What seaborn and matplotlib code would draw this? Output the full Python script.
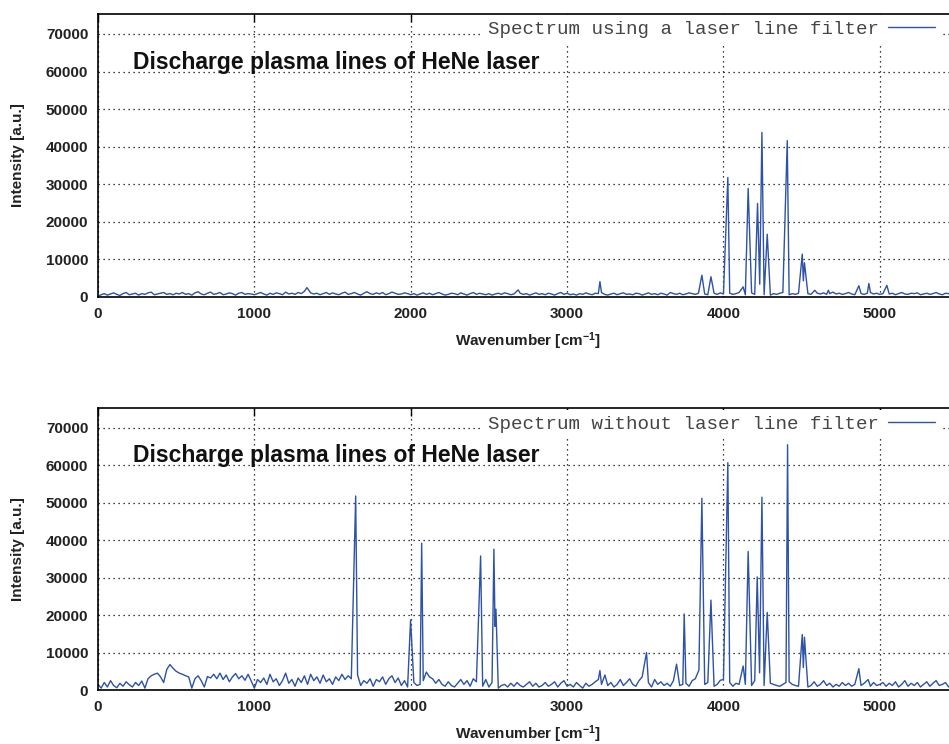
import numpy as np
import pandas as pd
import matplotlib
matplotlib.use("Agg")
import matplotlib.pyplot as plt
import seaborn as sns

# sampling grid of the baseline (cm^-1)
wavenumber_grid = np.arange(0, 5501, 20)

# baseline intensities, in units of 100 a.u.
filter_baseline = [
    2, 6, 9, 5, 8, 11, 7, 4, 9, 12, 6, 8, 10, 5, 9, 7, 11, 13, 6, 8, 10, 12, 7, 9, 6,
    10, 8, 12, 7, 9, 5, 11, 14, 8, 6, 10, 13, 7, 9, 12, 6, 8, 11, 9, 5, 10, 12, 7, 9, 8,
    6, 9, 12, 8, 5, 10, 7, 11, 9, 6, 13, 8, 10, 7, 12, 9, 15, 20, 11, 8, 10, 6, 9, 12, 7,
    11, 8, 6, 10, 13, 7, 9, 12, 8, 5, 10, 14, 9, 7, 11, 8, 12, 6, 9, 13, 10, 7, 8, 11, 9,
    6, 9, 5, 8, 11, 7, 10, 6, 9, 12, 8, 5, 7, 10, 9, 6, 11, 8, 5, 9, 12, 7, 10, 8, 6,
    9, 5, 8, 10, 7, 11, 9, 6, 8, 14, 10, 7, 9, 5, 8, 11, 7, 9, 6, 10, 8, 5, 9, 12, 7,
    10, 6, 8, 5, 9, 7, 11, 8, 6, 10, 9, 12, 7, 5, 8, 10, 6, 9, 11, 7, 8, 6, 10, 9, 5,
    8, 11, 7, 9, 6, 10, 8, 5, 12, 9, 7, 10, 6, 8, 11, 9, 7, 10, 12, 8, 6, 9, 10, 7, 11,
    8, 6, 10, 7, 9, 12, 8, 6, 9, 11, 7, 8, 10, 6, 8, 5, 9, 7, 10, 12, 8, 6, 9, 7, 10,
    8, 12, 9, 7, 14, 10, 8, 11, 7, 9, 13, 8, 10, 7, 9, 12, 8, 6, 11, 9, 7, 10, 12, 8, 10,
    7, 9, 11, 8, 10, 6, 9, 12, 8, 7, 10, 9, 11, 6, 8, 10, 7, 9, 12, 8, 6, 10, 9, 7, 8,
    9,
]
nofilter_baseline = [
    15, 5, 20, 8, 25, 12, 6, 18, 10, 22, 14, 8, 20, 12, 24, 5, 30, 38, 42, 45, 35, 20, 55, 68, 58,
    50, 45, 42, 38, 35, 5, 30, 38, 25, 8, 36, 32, 42, 30, 45, 28, 40, 22, 35, 44, 30, 38, 26, 42, 24,
    5, 28, 20, 32, 15, 42, 22, 30, 12, 25, 45, 18, 28, 10, 32, 20, 38, 15, 42, 25, 35, 18, 40, 22, 30,
    15, 35, 25, 42, 28, 38, 30, 45, 40, 12, 25, 18, 30, 10, 28, 22, 35, 15, 30, 38, 20, 32, 12, 25, 8,
    10, 20, 12, 15, 25, 48, 35, 30, 18, 28, 15, 10, 22, 12, 8, 18, 28, 15, 25, 10, 30, 22, 15, 10, 28,
    8, 20, 25, 5, 12, 15, 8, 18, 10, 20, 12, 8, 15, 22, 10, 18, 8, 12, 20, 10, 15, 22, 8, 18, 25,
    10, 15, 8, 20, 12, 5, 18, 10, 15, 22, 28, 15, 35, 12, 20, 8, 15, 28, 12, 20, 30, 15, 10, 25, 35,
    15, 20, 8, 28, 15, 22, 12, 18, 10, 25, 20, 12, 15, 18, 10, 25, 30, 20, 25, 15, 20, 18, 10, 15, 25,
    28, 15, 20, 10, 18, 15, 20, 15, 20, 12, 25, 15, 20, 12, 25, 18, 15, 12, 10, 15, 20, 22, 15, 12, 10,
    25, 20, 8, 12, 22, 10, 15, 25, 12, 18, 8, 15, 10, 20, 12, 18, 10, 15, 25, 12, 18, 22, 10, 20, 12,
    15, 20, 10, 18, 12, 22, 8, 15, 25, 10, 18, 12, 20, 8, 15, 22, 10, 18, 25, 12, 15, 20, 8, 18, 12,
    15,
]

# emission lines (position in cm^-1, height in units of 100 a.u.)
filter_peak_x = [1336, 2687, 3210, 3862, 3920, 4028, 4126, 4158, 4218, 4232, 4246,
                 4280, 4408, 4504, 4511, 4518, 4584, 4671, 4866, 4930, 5045]
filter_peak_y = [25, 19, 41, 58, 54, 318, 27, 289, 249, 34, 438,
                 167, 416, 114, 43, 91, 18, 18, 30, 36, 31]
nofilter_peak_x = [1648, 1999, 2070, 2447, 2532, 2539, 2545, 3210, 3242, 3508, 3700,
                   3749, 3843, 3862, 3920, 3980, 4028, 4126, 4158, 4216, 4231, 4246,
                   4280, 4410, 4504, 4511, 4518, 4866, 4925]
nofilter_peak_y = [518, 187, 392, 358, 376, 170, 216, 52, 40, 100, 69,
                   203, 53, 512, 240, 26, 607, 64, 370, 302, 46, 515,
                   207, 655, 148, 60, 141, 57, 28]

titles = ["Spectrum using a laser line filter", "Spectrum without laser line filter"]


def spectrum(base, px, py):
    bx = wavenumber_grid.astype(float)
    by = np.array(base, dtype=float) * 100
    px = np.array(px, dtype=float)
    keep = np.all(np.abs(bx[:, None] - px[None, :]) > 8, axis=1)
    x = np.concatenate([bx[keep], px])
    y = np.concatenate([by[keep], np.array(py, dtype=float) * 100])
    o = np.argsort(x)
    return pd.DataFrame({"wavenumber": x[o], "intensity": y[o]})


sns.set_style("white")
plt.rcParams["font.family"] = ["Liberation Sans", "DejaVu Sans"]
plt.rcParams["mathtext.fontset"] = "custom"
plt.rcParams["mathtext.rm"] = "Liberation Sans:bold"
plt.rcParams["mathtext.default"] = "rm"

blue = "#2d52a6"
W, H = 949, 744
fig = plt.figure(figsize=(W / 100, H / 100), dpi=100)
ax_top = fig.add_axes([98 / W, 1 - 297 / H, 860 / W, 283 / H])
ax_bot = fig.add_axes([98 / W, 1 - 690 / H, 860 / W, 282 / H])

data = [spectrum(filter_baseline, filter_peak_x, filter_peak_y),
        spectrum(nofilter_baseline, nofilter_peak_x, nofilter_peak_y)]
legend_y = [29, 424]

for ax, df, lab, ly in zip([ax_top, ax_bot], data, titles, legend_y):
    sns.lineplot(data=df, x="wavenumber", y="intensity", ax=ax, color=blue,
                 lw=1.0, estimator=None, label=lab)
    ax.set_xlim(0, 5500)
    ax.set_ylim(0, 75300)
    ax.set_xticks(range(0, 5501, 1000))
    ax.set_yticks(range(0, 70001, 10000))
    ax.tick_params(direction="in", length=6, width=1, top=True, right=True,
                   labelsize=11, pad=7, colors="black")
    for t in ax.get_xticklabels() + ax.get_yticklabels():
        t.set_fontweight("bold")
        t.set_color("#222222")
    ax.grid(True, linestyle=(0, (1, 3)), color="black", lw=0.9)
    for s in ax.spines.values():
        s.set_color("black")
        s.set_linewidth(1.2)
    ax.set_ylabel("Intensity [a.u.]", fontsize=11, fontweight="bold", color="#222222")
    ax.set_xlabel(r"Wavenumber [cm$^{-1}$]", fontsize=11, fontweight="bold", color="#222222")
    ax.yaxis.set_label_coords(-0.085, 0.5)
    ax.xaxis.set_label_coords(0.5, -0.117)
    ax.text(224, 62500, "Discharge plasma lines of HeNe laser", fontsize=16.5,
            fontweight="bold", va="center", color="#111111")
    leg = ax.legend(loc="center right", bbox_to_anchor=(941 / W, 1 - ly / H),
                    bbox_transform=fig.transFigure, frameon=True, markerfirst=False,
                    handlelength=2.45, handletextpad=0.5, borderpad=0.3,
                    borderaxespad=0, fancybox=False,
                    prop={"family": "Liberation Mono", "size": 13.8})
    leg.get_frame().set_facecolor("white")
    leg.get_frame().set_edgecolor("none")
    leg.get_frame().set_alpha(1)
    for t in leg.get_texts():
        t.set_color("#444444")

fig.savefig("out.png", dpi=100)
